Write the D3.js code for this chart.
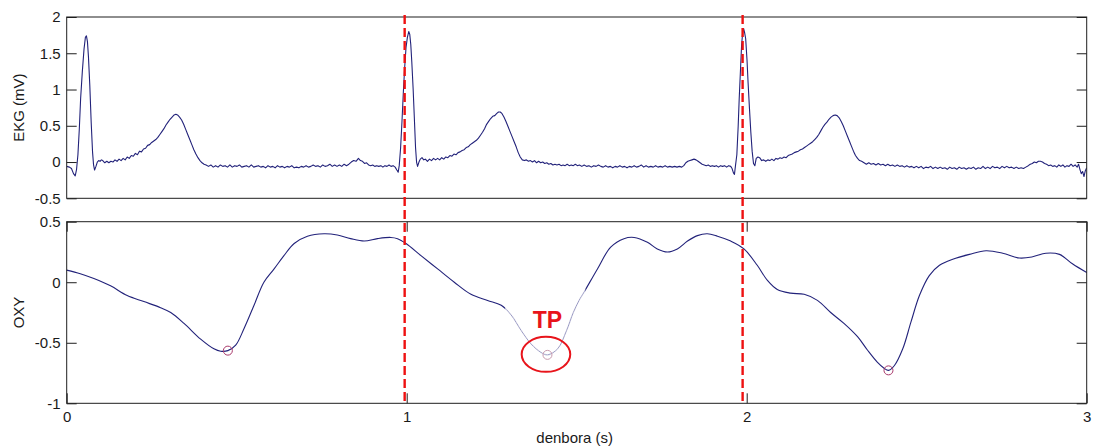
<!DOCTYPE html>
<html>
<head>
<meta charset="utf-8">
<script src="https://cdn.jsdelivr.net/npm/d3@7"></script>
<style>
  html, body { margin: 0; padding: 0; background: #fff; }
  svg { display: block; }
  .tick text { font-family: "Liberation Sans", Arial, sans-serif; font-size: 15px; }
</style>
</head>
<body>
<svg id="chart" width="1097" height="448"></svg>
<script>
// ECG trace: [time (s), amplitude (mV)]
const ekgSamples = [
  [0.000,-0.06],[0.008,-0.07],[0.014,-0.09],[0.020,-0.16],[0.025,-0.19],[0.029,-0.10],[0.033,0.10],[0.037,0.45],
  [0.041,0.88],[0.046,1.25],[0.051,1.56],[0.055,1.72],[0.058,1.74],[0.061,1.66],[0.064,1.45],[0.068,1.05],
  [0.072,0.55],[0.076,0.14],[0.079,-0.04],[0.082,-0.11],[0.086,-0.06],[0.090,0.00],[0.094,0.02],[0.098,0.01],
  [0.102,0.03],[0.106,0.02],[0.112,-0.01],[0.118,0.01],[0.124,-0.01],[0.130,0.01],[0.136,0.00],[0.142,0.03],
  [0.148,0.01],[0.154,0.04],[0.160,0.02],[0.166,0.05],[0.172,0.03],[0.178,0.07],[0.184,0.05],[0.190,0.09],
  [0.196,0.08],[0.202,0.12],[0.208,0.10],[0.214,0.15],[0.220,0.14],[0.226,0.18],[0.232,0.19],[0.238,0.23],
  [0.244,0.24],[0.250,0.27],[0.256,0.29],[0.262,0.31],[0.268,0.34],[0.274,0.38],[0.280,0.42],[0.286,0.46],
  [0.292,0.51],[0.298,0.55],[0.304,0.59],[0.310,0.62],[0.316,0.65],[0.321,0.66],[0.326,0.65],[0.332,0.62],
  [0.338,0.58],[0.344,0.52],[0.350,0.45],[0.356,0.38],[0.362,0.31],[0.368,0.24],[0.374,0.17],[0.380,0.11],
  [0.386,0.06],[0.392,0.02],[0.398,-0.01],[0.404,-0.03],[0.410,-0.04],
  [0.417,-0.06],[0.424,-0.04],[0.431,-0.07],[0.438,-0.05],[0.445,-0.07],[0.452,-0.04],[0.459,-0.06],[0.466,-0.05],
  [0.473,-0.07],[0.480,-0.04],[0.487,-0.07],[0.494,-0.05],[0.501,-0.06],[0.508,-0.04],[0.515,-0.07],[0.522,-0.06],
  [0.529,-0.05],[0.536,-0.07],[0.543,-0.04],[0.550,-0.07],[0.557,-0.06],[0.564,-0.05],[0.571,-0.07],[0.578,-0.06],
  [0.585,-0.08],[0.592,-0.05],[0.599,-0.07],[0.606,-0.06],[0.613,-0.08],[0.620,-0.05],[0.627,-0.07],[0.634,-0.06],
  [0.641,-0.08],[0.648,-0.06],[0.655,-0.07],[0.662,-0.05],[0.669,-0.08],[0.676,-0.07],[0.683,-0.08],[0.690,-0.06],
  [0.697,-0.07],[0.704,-0.05],[0.711,-0.07],[0.718,-0.06],[0.725,-0.04],[0.732,-0.06],[0.739,-0.05],[0.746,-0.07],
  [0.753,-0.04],[0.760,-0.06],[0.767,-0.05],[0.774,-0.03],[0.781,-0.06],[0.788,-0.04],[0.795,-0.06],[0.802,-0.04],
  [0.809,-0.06],[0.816,-0.03],[0.823,-0.05],
  [0.830,-0.03],[0.837,0.00],[0.844,0.02],[0.851,0.01],[0.858,0.05],[0.864,0.02],[0.870,0.01],[0.876,-0.02],
  [0.882,-0.01],[0.888,-0.04],[0.894,-0.05],[0.900,-0.04],[0.906,-0.06],[0.912,-0.05],[0.918,-0.06],[0.924,-0.05],
  [0.930,-0.07],[0.936,-0.05],[0.942,-0.06],[0.948,-0.04],[0.954,-0.06],[0.960,-0.05],[0.966,-0.07],
  [0.971,-0.11],[0.975,-0.14],[0.978,-0.05],[0.982,0.19],[0.986,0.55],[0.990,0.95],[0.994,1.30],[0.998,1.58],
  [1.002,1.72],[1.006,1.80],[1.009,1.76],[1.012,1.62],[1.015,1.38],[1.019,1.00],[1.023,0.55],[1.026,0.20],
  [1.029,0.00],[1.032,-0.06],[1.036,0.00],[1.040,0.04],[1.045,0.06],[1.050,0.03],[1.055,0.04],
  [1.061,0.01],[1.067,0.04],[1.073,0.02],[1.079,0.05],[1.085,0.03],[1.091,0.05],[1.097,0.03],[1.103,0.06],
  [1.109,0.04],[1.115,0.07],[1.121,0.06],[1.127,0.09],[1.133,0.08],[1.139,0.11],[1.145,0.10],[1.151,0.13],
  [1.157,0.14],[1.163,0.16],[1.169,0.17],[1.175,0.20],[1.181,0.21],[1.187,0.24],[1.193,0.26],[1.199,0.28],
  [1.205,0.30],[1.211,0.33],[1.217,0.37],[1.223,0.41],[1.229,0.46],[1.235,0.52],[1.241,0.56],[1.247,0.60],
  [1.253,0.63],[1.259,0.64],[1.265,0.67],[1.270,0.69],[1.275,0.69],[1.280,0.67],[1.286,0.62],[1.292,0.56],
  [1.298,0.49],[1.304,0.42],[1.310,0.35],[1.316,0.28],[1.322,0.21],[1.328,0.13],[1.334,0.07],[1.340,0.03],
  [1.346,0.02],
  [1.352,0.03],[1.358,0.01],[1.364,0.02],[1.370,0.00],[1.376,0.02],[1.382,-0.01],[1.388,0.01],[1.394,-0.01],
  [1.400,0.00],[1.406,-0.02],[1.412,-0.01],[1.418,-0.03],[1.424,-0.02],[1.430,-0.04],[1.436,-0.03],[1.442,-0.04],
  [1.448,-0.03],[1.454,-0.05],[1.460,-0.04],[1.466,-0.05],[1.472,-0.03],[1.478,-0.05],[1.484,-0.04],[1.490,-0.05],
  [1.496,-0.03],[1.502,-0.05],[1.508,-0.04],[1.515,-0.06],[1.522,-0.04],[1.529,-0.06],[1.536,-0.05],[1.543,-0.07],
  [1.550,-0.05],[1.557,-0.06],[1.564,-0.04],[1.571,-0.06],[1.578,-0.07],[1.585,-0.05],[1.592,-0.07],[1.599,-0.06],
  [1.606,-0.08],[1.613,-0.06],[1.620,-0.07],[1.627,-0.05],[1.634,-0.07],[1.641,-0.06],[1.648,-0.08],[1.655,-0.06],
  [1.662,-0.07],[1.669,-0.05],[1.676,-0.07],[1.683,-0.06],[1.690,-0.04],[1.697,-0.07],[1.704,-0.05],[1.711,-0.07],
  [1.718,-0.06],[1.725,-0.07],[1.732,-0.05],[1.739,-0.07],[1.746,-0.06],[1.753,-0.07],[1.760,-0.05],[1.767,-0.07],
  [1.774,-0.06],[1.781,-0.07],[1.788,-0.06],[1.795,-0.07],[1.802,-0.06],[1.809,-0.07],
  [1.815,-0.05],[1.821,-0.01],[1.827,0.01],[1.833,0.02],[1.839,0.03],[1.845,0.04],[1.851,0.03],[1.857,0.01],
  [1.863,-0.01],[1.869,-0.03],[1.875,-0.04],[1.881,-0.05],[1.887,-0.04],[1.893,-0.06],[1.899,-0.05],[1.905,-0.06],
  [1.911,-0.05],[1.917,-0.07],[1.923,-0.05],[1.929,-0.06],[1.935,-0.05],[1.941,-0.07],[1.947,-0.05],[1.953,-0.06],
  [1.957,-0.09],
  [1.961,-0.15],[1.964,-0.17],[1.967,-0.05],[1.971,0.10],[1.975,0.50],[1.978,0.88],[1.982,1.30],[1.985,1.61],
  [1.988,1.78],[1.991,1.84],[1.994,1.78],[1.997,1.70],[2.001,1.40],[2.004,1.10],[2.008,0.75],[2.012,0.42],
  [2.016,0.15],[2.020,-0.02],[2.024,-0.05],[2.028,0.05],[2.033,0.07],[2.038,0.06],[2.044,0.02],[2.050,0.03],
  [2.056,0.01],[2.062,0.03],[2.068,0.02],[2.074,0.04],[2.080,0.02],[2.086,0.05],[2.092,0.04],[2.098,0.06],
  [2.104,0.05],[2.110,0.07],[2.116,0.06],[2.122,0.09],[2.128,0.10],[2.134,0.11],[2.140,0.13],[2.146,0.14],
  [2.152,0.15],[2.158,0.17],[2.164,0.18],[2.170,0.20],[2.176,0.22],[2.182,0.24],[2.188,0.26],[2.194,0.28],
  [2.200,0.31],[2.206,0.34],[2.212,0.38],[2.218,0.43],[2.224,0.48],[2.230,0.52],[2.236,0.55],[2.242,0.59],
  [2.248,0.62],[2.254,0.64],[2.260,0.65],[2.266,0.64],[2.272,0.61],[2.278,0.56],[2.284,0.50],[2.290,0.43],
  [2.296,0.36],[2.302,0.29],[2.308,0.22],[2.314,0.15],[2.320,0.09],[2.326,0.05],[2.332,0.02],[2.338,0.01],
  [2.345,-0.01],[2.352,-0.03],[2.359,-0.01],[2.366,-0.03],[2.373,-0.02],[2.380,-0.04],[2.387,-0.02],[2.394,-0.04],
  [2.401,-0.03],[2.408,-0.05],[2.415,-0.03],[2.422,-0.05],[2.429,-0.04],[2.436,-0.06],[2.443,-0.04],[2.450,-0.06],
  [2.457,-0.05],[2.464,-0.07],[2.471,-0.05],[2.478,-0.07],[2.485,-0.06],[2.492,-0.08],[2.499,-0.06],[2.506,-0.08],
  [2.513,-0.06],[2.520,-0.09],[2.527,-0.07],[2.534,-0.08],[2.541,-0.06],[2.548,-0.09],[2.555,-0.07],[2.562,-0.09],
  [2.569,-0.07],[2.576,-0.09],[2.583,-0.08],[2.590,-0.10],[2.597,-0.07],[2.604,-0.09],[2.611,-0.08],[2.618,-0.10],
  [2.625,-0.07],[2.632,-0.09],[2.639,-0.08],[2.646,-0.10],[2.653,-0.08],[2.660,-0.09],[2.667,-0.07],[2.674,-0.10],
  [2.681,-0.08],[2.688,-0.09],[2.695,-0.06],[2.702,-0.09],[2.709,-0.07],[2.716,-0.09],[2.723,-0.06],[2.730,-0.08],
  [2.737,-0.07],[2.744,-0.09],[2.751,-0.06],[2.758,-0.08],[2.765,-0.06],[2.772,-0.08],[2.779,-0.07],[2.786,-0.09],
  [2.793,-0.07],[2.800,-0.09],[2.807,-0.08],[2.814,-0.09],[2.821,-0.07],
  [2.828,-0.05],[2.834,-0.03],[2.840,-0.02],[2.846,0.00],[2.852,-0.01],[2.858,0.01],[2.864,0.01],[2.870,0.00],
  [2.876,-0.02],[2.882,-0.03],[2.888,-0.05],[2.894,-0.04],[2.900,-0.06],[2.906,-0.05],[2.912,-0.07],[2.918,-0.04],
  [2.924,-0.06],[2.930,-0.04],[2.936,-0.07],[2.942,-0.05],[2.948,-0.06],[2.954,-0.03],[2.960,-0.06],[2.966,-0.04],
  [2.972,-0.07],[2.976,-0.03],[2.980,-0.10],[2.984,-0.16],[2.988,-0.13],[2.992,-0.20],[2.996,-0.12],[3.000,-0.08]
];

// Oxygenation trace: [time (s), value]
const oxySamples = [
  [0.000,0.10],[0.040,0.07],[0.080,0.03],[0.129,-0.03],[0.178,-0.11],[0.227,-0.16],[0.276,-0.21],[0.306,-0.25],
  [0.345,-0.34],[0.394,-0.47],[0.433,-0.55],[0.453,-0.57],[0.474,-0.565],[0.497,-0.52],[0.522,-0.38],[0.551,-0.19],
  [0.580,0.00],[0.610,0.11],[0.639,0.22],[0.669,0.32],[0.708,0.38],[0.757,0.40],[0.796,0.39],[0.835,0.36],
  [0.875,0.34],[0.914,0.36],[0.953,0.37],[0.973,0.36],[0.998,0.32],[1.042,0.22],[1.091,0.11],[1.140,0.00],
  [1.189,-0.10],[1.238,-0.15],[1.278,-0.19],[1.307,-0.27],[1.337,-0.40],[1.366,-0.51],[1.395,-0.58],[1.414,-0.60],
  [1.444,-0.55],[1.470,-0.40],[1.490,-0.25],[1.507,-0.15],[1.522,-0.08],[1.561,0.11],[1.600,0.29],[1.639,0.36],
  [1.669,0.37],[1.708,0.33],[1.737,0.275],[1.767,0.25],[1.796,0.275],[1.826,0.34],[1.855,0.385],[1.884,0.40],
  [1.914,0.38],[1.953,0.34],[1.992,0.275],[2.031,0.14],[2.061,0.015],[2.090,-0.06],[2.129,-0.09],[2.169,-0.10],
  [2.208,-0.15],[2.247,-0.25],[2.286,-0.34],[2.326,-0.45],[2.355,-0.56],[2.384,-0.66],[2.404,-0.71],[2.417,-0.728],
  [2.434,-0.69],[2.459,-0.55],[2.483,-0.33],[2.508,-0.11],[2.537,0.055],[2.567,0.14],[2.606,0.19],[2.655,0.23],
  [2.704,0.26],[2.753,0.24],[2.802,0.20],[2.841,0.21],[2.880,0.24],[2.920,0.23],[2.959,0.15],[3.000,0.08]
];

// Detected oxygenation minima
const minTimes  = [0.474, 1.414, 2.417];
const minValues = [-0.565, -0.60, -0.728];

// R-peak reference instants (dashed markers across both panels)
const rPeakTimes = [0.994, 1.988];

// Axis ticks
const timeTicks = [0, 1, 2, 3];
const ekgTicks  = [-0.5, 0, 0.5, 1, 1.5, 2];
const oxyTicks  = [-1, -0.5, 0, 0.5];

// Highlighted minimum
const tpLabel = "TP";
const tpIndex = 1;
const tpSpan  = [1.29, 1.525];

const svg = d3.select("#chart");
const font = '"Liberation Sans", Arial, sans-serif';

const left = 66.7, right = 1086.7;
const top1 = 17.0, bot1 = 198.3;
const top2 = 221.7, bot2 = 403.3;

const x = d3.scaleLinear().domain([0, 3]).range([left, right]);
const yEkg = d3.scaleLinear().domain([-0.5, 2]).range([bot1, top1]);
const yOxy = d3.scaleLinear().domain([-1, 0.5]).range([bot2, top2]);

const lineColor = "#22227a";
const axisColor = "#1e1e1e";

function panel(y, ticks, top, bot, showX) {
  const g = svg.append("g");
  const axes = [];
  // y ticks left with labels
  axes.push(g.append("g").attr("transform", `translate(${left},0)`)
    .call(d3.axisLeft(y).tickValues(ticks).tickSize(-10).tickPadding(6).tickFormat(d => String(d))));
  // y ticks right
  axes.push(g.append("g").attr("transform", `translate(${right},0)`)
    .call(d3.axisRight(y).tickValues(ticks).tickSize(-10).tickFormat("")));
  if (showX) {
    // x ticks top and bottom (time axis only on the lower panel)
    axes.push(g.append("g").attr("transform", `translate(0,${top})`)
      .call(d3.axisTop(x).tickValues(timeTicks).tickSize(-10).tickFormat("")));
    axes.push(g.append("g").attr("transform", `translate(0,${bot})`)
      .call(d3.axisBottom(x).tickValues(timeTicks).tickSize(-10).tickPadding(8)
        .tickFormat(d => String(d))));
  }
  axes.forEach(a => {
    a.attr("color", axisColor);
    a.select(".domain").remove();
    a.selectAll("text").attr("font-family", font).attr("font-size", 15).attr("fill", "#1a1a1a");
  });
  g.append("rect")
    .attr("x", left).attr("y", top)
    .attr("width", right - left).attr("height", bot - top)
    .attr("fill", "none").attr("stroke", axisColor).attr("stroke-width", 1);
  return g;
}

// Background
svg.append("rect").attr("width", 1097).attr("height", 448).attr("fill", "#fff");

// ECG panel
svg.append("clipPath").attr("id", "clip1")
  .append("rect").attr("x", left).attr("y", top1).attr("width", right - left).attr("height", bot1 - top1);
svg.append("path")
  .datum(ekgSamples)
  .attr("clip-path", "url(#clip1)")
  .attr("fill", "none")
  .attr("stroke", lineColor)
  .attr("stroke-width", 1.1)
  .attr("stroke-linejoin", "round")
  .attr("d", d3.line().x(d => x(d[0])).y(d => yEkg(d[1])));
panel(yEkg, ekgTicks, top1, bot1, false);

// Oxygenation panel
const oxyLine = d3.line().x(d => x(d[0])).y(d => yOxy(d[1])).curve(d3.curveCatmullRom.alpha(0.5));
svg.append("path")
  .datum(oxySamples)
  .attr("fill", "none")
  .attr("stroke", lineColor)
  .attr("stroke-width", 1.1)
  .attr("d", oxyLine);
// faded stretch around the highlighted minimum
svg.append("clipPath").attr("id", "clipTp")
  .append("rect")
  .attr("x", x(tpSpan[0])).attr("y", top2)
  .attr("width", x(tpSpan[1]) - x(tpSpan[0])).attr("height", bot2 - top2);
svg.append("path")
  .datum(oxySamples)
  .attr("clip-path", "url(#clipTp)")
  .attr("fill", "none")
  .attr("stroke", "#fff")
  .attr("stroke-width", 2.4)
  .attr("d", oxyLine);
svg.append("path")
  .datum(oxySamples)
  .attr("clip-path", "url(#clipTp)")
  .attr("fill", "none")
  .attr("stroke", "#9c9cc4")
  .attr("stroke-width", 1)
  .attr("d", oxyLine);

// Minima markers
svg.append("g").selectAll("circle")
  .data(minTimes.map((t, i) => [t, minValues[i]]))
  .join("circle")
  .attr("cx", d => x(d[0]))
  .attr("cy", d => yOxy(d[1]))
  .attr("r", 4.5)
  .attr("fill", "none")
  .attr("stroke", (d, i) => i === tpIndex ? "#c89aae" : "#a8386a")
  .attr("stroke-width", 1);

panel(yOxy, oxyTicks, top2, bot2, true);

// R-peak markers spanning both panels
svg.append("g").selectAll("line")
  .data(rPeakTimes)
  .join("line")
  .attr("x1", d => x(d)).attr("x2", d => x(d))
  .attr("y1", 15).attr("y2", 401)
  .attr("stroke", "#ee1111")
  .attr("stroke-width", 2.4)
  .attr("stroke-dasharray", "9,4");

// TP annotation
const tpT = minTimes[tpIndex], tpV = minValues[tpIndex];
svg.append("ellipse")
  .attr("cx", x(tpT) - 1.5).attr("cy", yOxy(tpV) - 0.5)
  .attr("rx", 24.3).attr("ry", 17.5)
  .attr("fill", "none").attr("stroke", "#e8141b").attr("stroke-width", 2);
svg.append("text")
  .attr("x", x(tpT)).attr("y", yOxy(tpV) - 26.5)
  .attr("text-anchor", "middle")
  .attr("font-family", font).attr("font-weight", "bold").attr("font-size", 23)
  .attr("fill", "#e8141b")
  .text(tpLabel);

// Axis titles
svg.append("text")
  .attr("transform", `translate(23.5,${(top1 + bot1) / 2}) rotate(-90)`)
  .attr("text-anchor", "middle")
  .attr("font-family", font).attr("font-size", 15).attr("fill", "#1a1a1a")
  .text("EKG (mV)");
svg.append("text")
  .attr("transform", `translate(24,${(top2 + bot2) / 2}) rotate(-90)`)
  .attr("text-anchor", "middle")
  .attr("font-family", font).attr("font-size", 15).attr("fill", "#1a1a1a")
  .text("OXY");
svg.append("text")
  .attr("x", (left + right) / 2 - 2).attr("y", 443)
  .attr("text-anchor", "middle")
  .attr("font-family", font).attr("font-size", 15).attr("fill", "#1a1a1a")
  .text("denbora (s)");
</script>
</body>
</html>
